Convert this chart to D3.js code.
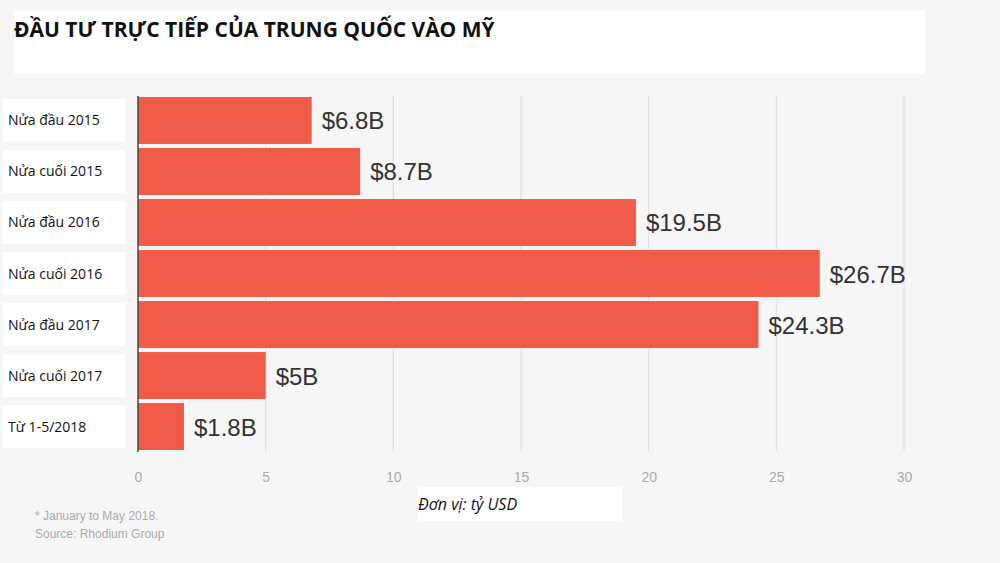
<!DOCTYPE html>
<html>
<head>
<meta charset="utf-8">
<script src="https://cdn.jsdelivr.net/npm/d3@7"></script>
<style>
  body { margin: 0; background: #f6f6f6; }
  svg { display: block; }
</style>
</head>
<body>
<svg></svg>
<script>
let categories = ['Nửa đầu 2015', 'Nửa cuối 2015', 'Nửa đầu 2016', 'Nửa cuối 2016', 'Nửa đầu 2017', 'Nửa cuối 2017', 'Từ 1-5/2018']
let values = [6.8, 8.7, 19.5, 26.7, 24.3, 5, 1.8]
let valueLabels = ['$6.8B', '$8.7B', '$19.5B', '$26.7B', '$24.3B', '$5B', '$1.8B']
let ticks = [0, 5, 10, 15, 20, 25, 30]

let width = 1000
let height = 563

let svg = d3.select('svg').attr('width', width).attr('height', height)

let xScale = d3.scaleLinear().domain([0, 30]).range([138, 904])
let yScale = d3.scaleBand().domain(categories).range([96, 451]).paddingInner(0.08).paddingOuter(0.02)

// title box
svg.append('rect').attr('x', 14).attr('y', 10).attr('width', 911).attr('height', 64).attr('fill', '#fff')
svg.append('text').attr('x', 14).attr('y', 37)
    .style('font-family', 'Open Sans').style('font-weight', 'bold').style('font-size', '21px')
    .attr('fill', '#111').text('ĐẦU TƯ TRỰC TIẾP CỦA TRUNG QUỐC VÀO MỸ')

// gridlines
svg.append('g').selectAll('line').data(ticks.slice(1)).enter().append('line')
    .attr('x1', d => xScale(d)).attr('x2', d => xScale(d))
    .attr('y1', 96).attr('y2', 452)
    .attr('stroke', '#dddddd').attr('stroke-width', 1)

// bars
svg.append('g').selectAll('rect').data(values).enter().append('rect')
    .attr('x', xScale(0))
    .attr('y', (d, i) => yScale(categories[i]))
    .attr('width', d => xScale(d) - xScale(0))
    .attr('height', yScale.bandwidth())
    .attr('fill', '#ef5b48')

svg.append('g').selectAll('text').data(values).enter().append('text')
    .attr('x', d => xScale(d) + 10)
    .attr('y', (d, i) => yScale(categories[i]) + yScale.bandwidth() / 2 + 9)
    .style('font-family', 'Liberation Sans').style('font-size', '24px')
    .attr('fill', '#333').text((d, i) => valueLabels[i])

// category labels with white boxes
let labs = svg.append('g').selectAll('g').data(categories).enter().append('g')
labs.append('rect').attr('x', 3).attr('y', d => yScale(d) + 2).attr('width', 122).attr('height', yScale.bandwidth() - 4).attr('fill', '#fff')
labs.append('text').attr('x', 8).attr('y', d => yScale(d) + yScale.bandwidth() / 2 + 5)
    .style('font-family', 'Open Sans').style('font-size', '14px').attr('fill', '#111').text(d => d)

// axis line
svg.append('line').attr('x1', xScale(0)).attr('x2', xScale(0)).attr('y1', 96).attr('y2', 452)
    .attr('stroke', '#444').attr('stroke-width', 1.5)

// x axis
let xAxis = d3.axisBottom(xScale).tickValues(ticks).tickSize(0).tickPadding(10)
let gx = svg.append('g').attr('transform', 'translate(0, 462)').call(xAxis)
gx.select('.domain').remove()
gx.selectAll('text').style('font-family', 'Liberation Sans').style('font-size', '14px').attr('fill', '#aaa')

// unit
svg.append('rect').attr('x', 418).attr('y', 487).attr('width', 204).attr('height', 34).attr('fill', '#fff')
svg.append('text').attr('x', 418).attr('y', 510).style('font-family', 'Open Sans').style('font-style', 'italic')
    .style('font-size', '16px').attr('fill', '#111').text('Đơn vị: tỷ USD')

// notes
svg.append('text').attr('x', 35).attr('y', 520).style('font-family', 'Liberation Sans').style('font-size', '12px')
    .attr('fill', '#aaa').text('* January to May 2018.')
svg.append('text').attr('x', 35).attr('y', 538).style('font-family', 'Liberation Sans').style('font-size', '12px')
    .attr('fill', '#aaa').text('Source: Rhodium Group')
</script>
</body>
</html>
